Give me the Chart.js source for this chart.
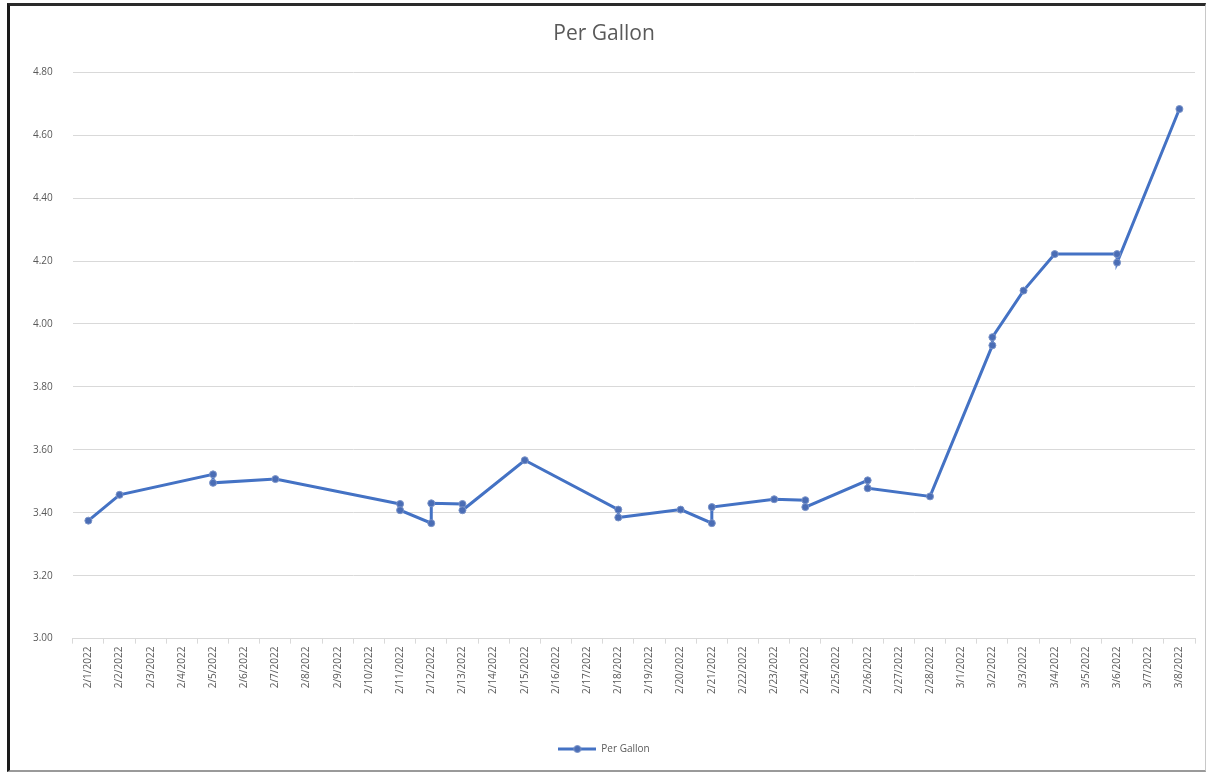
<!DOCTYPE html>
<html>
<head>
<meta charset="utf-8">
<script src="https://cdn.jsdelivr.net/npm/chart.js@4"></script>
<style>
  html, body { margin: 0; padding: 0; background: #fff; }
  #wrap { position: relative; width: 1210px; height: 775px; }
  #frame { position: absolute; left: 7px; top: 3px; width: 1199px; height: 769px;
           border-left: 3px solid #1a1a1a; border-top: 3px solid #2a2a2a;
           border-right: 1px solid #c8c8c8; border-bottom: 2px solid #9a9a9a;
           box-sizing: border-box; pointer-events: none; }
  canvas { position: absolute; left: 0; top: 0; }
</style>
</head>
<body>
<div id="wrap">
  <canvas id="c" width="1210" height="775"></canvas>
  <div id="frame"></div>
</div>
<script>
// Category labels (one per day on the date axis)
const dayLabels = [
  "2/1/2022","2/2/2022","2/3/2022","2/4/2022","2/5/2022","2/6/2022","2/7/2022","2/8/2022",
  "2/9/2022","2/10/2022","2/11/2022","2/12/2022","2/13/2022","2/14/2022","2/15/2022","2/16/2022",
  "2/17/2022","2/18/2022","2/19/2022","2/20/2022","2/21/2022","2/22/2022","2/23/2022","2/24/2022",
  "2/25/2022","2/26/2022","2/27/2022","2/28/2022","3/1/2022","3/2/2022","3/3/2022","3/4/2022",
  "3/5/2022","3/6/2022","3/7/2022","3/8/2022"
];

// Observation dates (in recorded order; some dates have two readings)
const pointDates = [
  "2/1/2022","2/2/2022","2/5/2022","2/5/2022","2/7/2022","2/11/2022","2/11/2022","2/12/2022",
  "2/12/2022","2/13/2022","2/13/2022","2/15/2022","2/18/2022","2/18/2022","2/20/2022","2/21/2022",
  "2/21/2022","2/23/2022","2/24/2022","2/24/2022","2/26/2022","2/26/2022","2/28/2022","3/2/2022",
  "3/2/2022","3/3/2022","3/4/2022","3/6/2022","3/6/2022","3/8/2022"
];

// Price per gallon for each observation
const perGallon = [
  3.375, 3.457, 3.522, 3.495, 3.507, 3.428, 3.408, 3.367,
  3.430, 3.428, 3.408, 3.567, 3.410, 3.385, 3.410, 3.367,
  3.418, 3.443, 3.440, 3.418, 3.503, 3.478, 3.452, 3.932,
  3.958, 4.106, 4.222, 4.222, 4.195, 4.683
];

// Y axis range / ticks
const yMin = 3.0, yMax = 4.8, yStep = 0.2;

const seriesName = "Per Gallon";
const lineColor = "#4472C4";

const points = pointDates.map((d, i) => ({ x: d, y: perGallon[i] }));

// legend symbol: line with a marker
const sym = document.createElement('canvas');
sym.width = 38; sym.height = 10;
(function () {
  const g = sym.getContext('2d');
  g.strokeStyle = lineColor; g.lineWidth = 3;
  g.beginPath(); g.moveTo(0, 5); g.lineTo(38, 5); g.stroke();
  g.fillStyle = "#4a6db5"; g.strokeStyle = "#7a93c8"; g.lineWidth = 1;
  g.beginPath(); g.arc(19, 5, 3.5, 0, Math.PI * 2); g.fill(); g.stroke();
})();

const fontFam = "'Open Sans', 'Liberation Sans', sans-serif";

new Chart(document.getElementById('c'), {
  type: 'line',
  data: {
    labels: dayLabels,
    datasets: [{
      label: seriesName,
      data: points,
      borderColor: lineColor,
      borderWidth: 3,
      tension: 0,
      pointRadius: 3.5,
      pointBackgroundColor: "#4a6db5",
      pointBorderColor: "#7a93c8",
      pointBorderWidth: 1,
      fill: false
    }]
  },
  options: {
    responsive: false,
    animation: false,
    devicePixelRatio: 1,
    layout: { padding: { left: 13, right: 15, top: 0, bottom: 11 } },
    plugins: {
      title: {
        display: true,
        text: "Per Gallon",
        color: "#595959",
        font: { family: fontFam, size: 21, weight: 'normal' },
        padding: { top: 21, bottom: 26 }
      },
      legend: {
        display: true,
        position: 'bottom',
        labels: {
          usePointStyle: true,
          pointStyle: sym,
          pointStyleWidth: 38,
          color: "#595959",
          font: { family: fontFam, size: 10 },
          padding: 20
        }
      },
      tooltip: { enabled: false }
    },
    scales: {
      x: {
        type: 'category',
        offset: true,
        afterFit: (scale) => { scale.height += 27; },
        grid: { display: true, drawOnChartArea: false, drawTicks: true, tickLength: 5, color: "#d9d9d9", offset: true },
        border: { display: true, color: "#d9d9d9", width: 1 },
        ticks: {
          autoSkip: false,
          maxRotation: 90,
          minRotation: 90,
          padding: 3,
          color: "#595959",
          font: { family: fontFam, size: 10 }
        }
      },
      y: {
        min: yMin,
        max: yMax,
        grid: { color: "#d9d9d9", drawTicks: false },
        border: { display: false },
        ticks: {
          stepSize: yStep,
          padding: 20,
          color: "#595959",
          font: { family: fontFam, size: 10 },
          callback: v => Number(v).toFixed(2)
        }
      }
    }
  }
});
</script>
</body>
</html>
